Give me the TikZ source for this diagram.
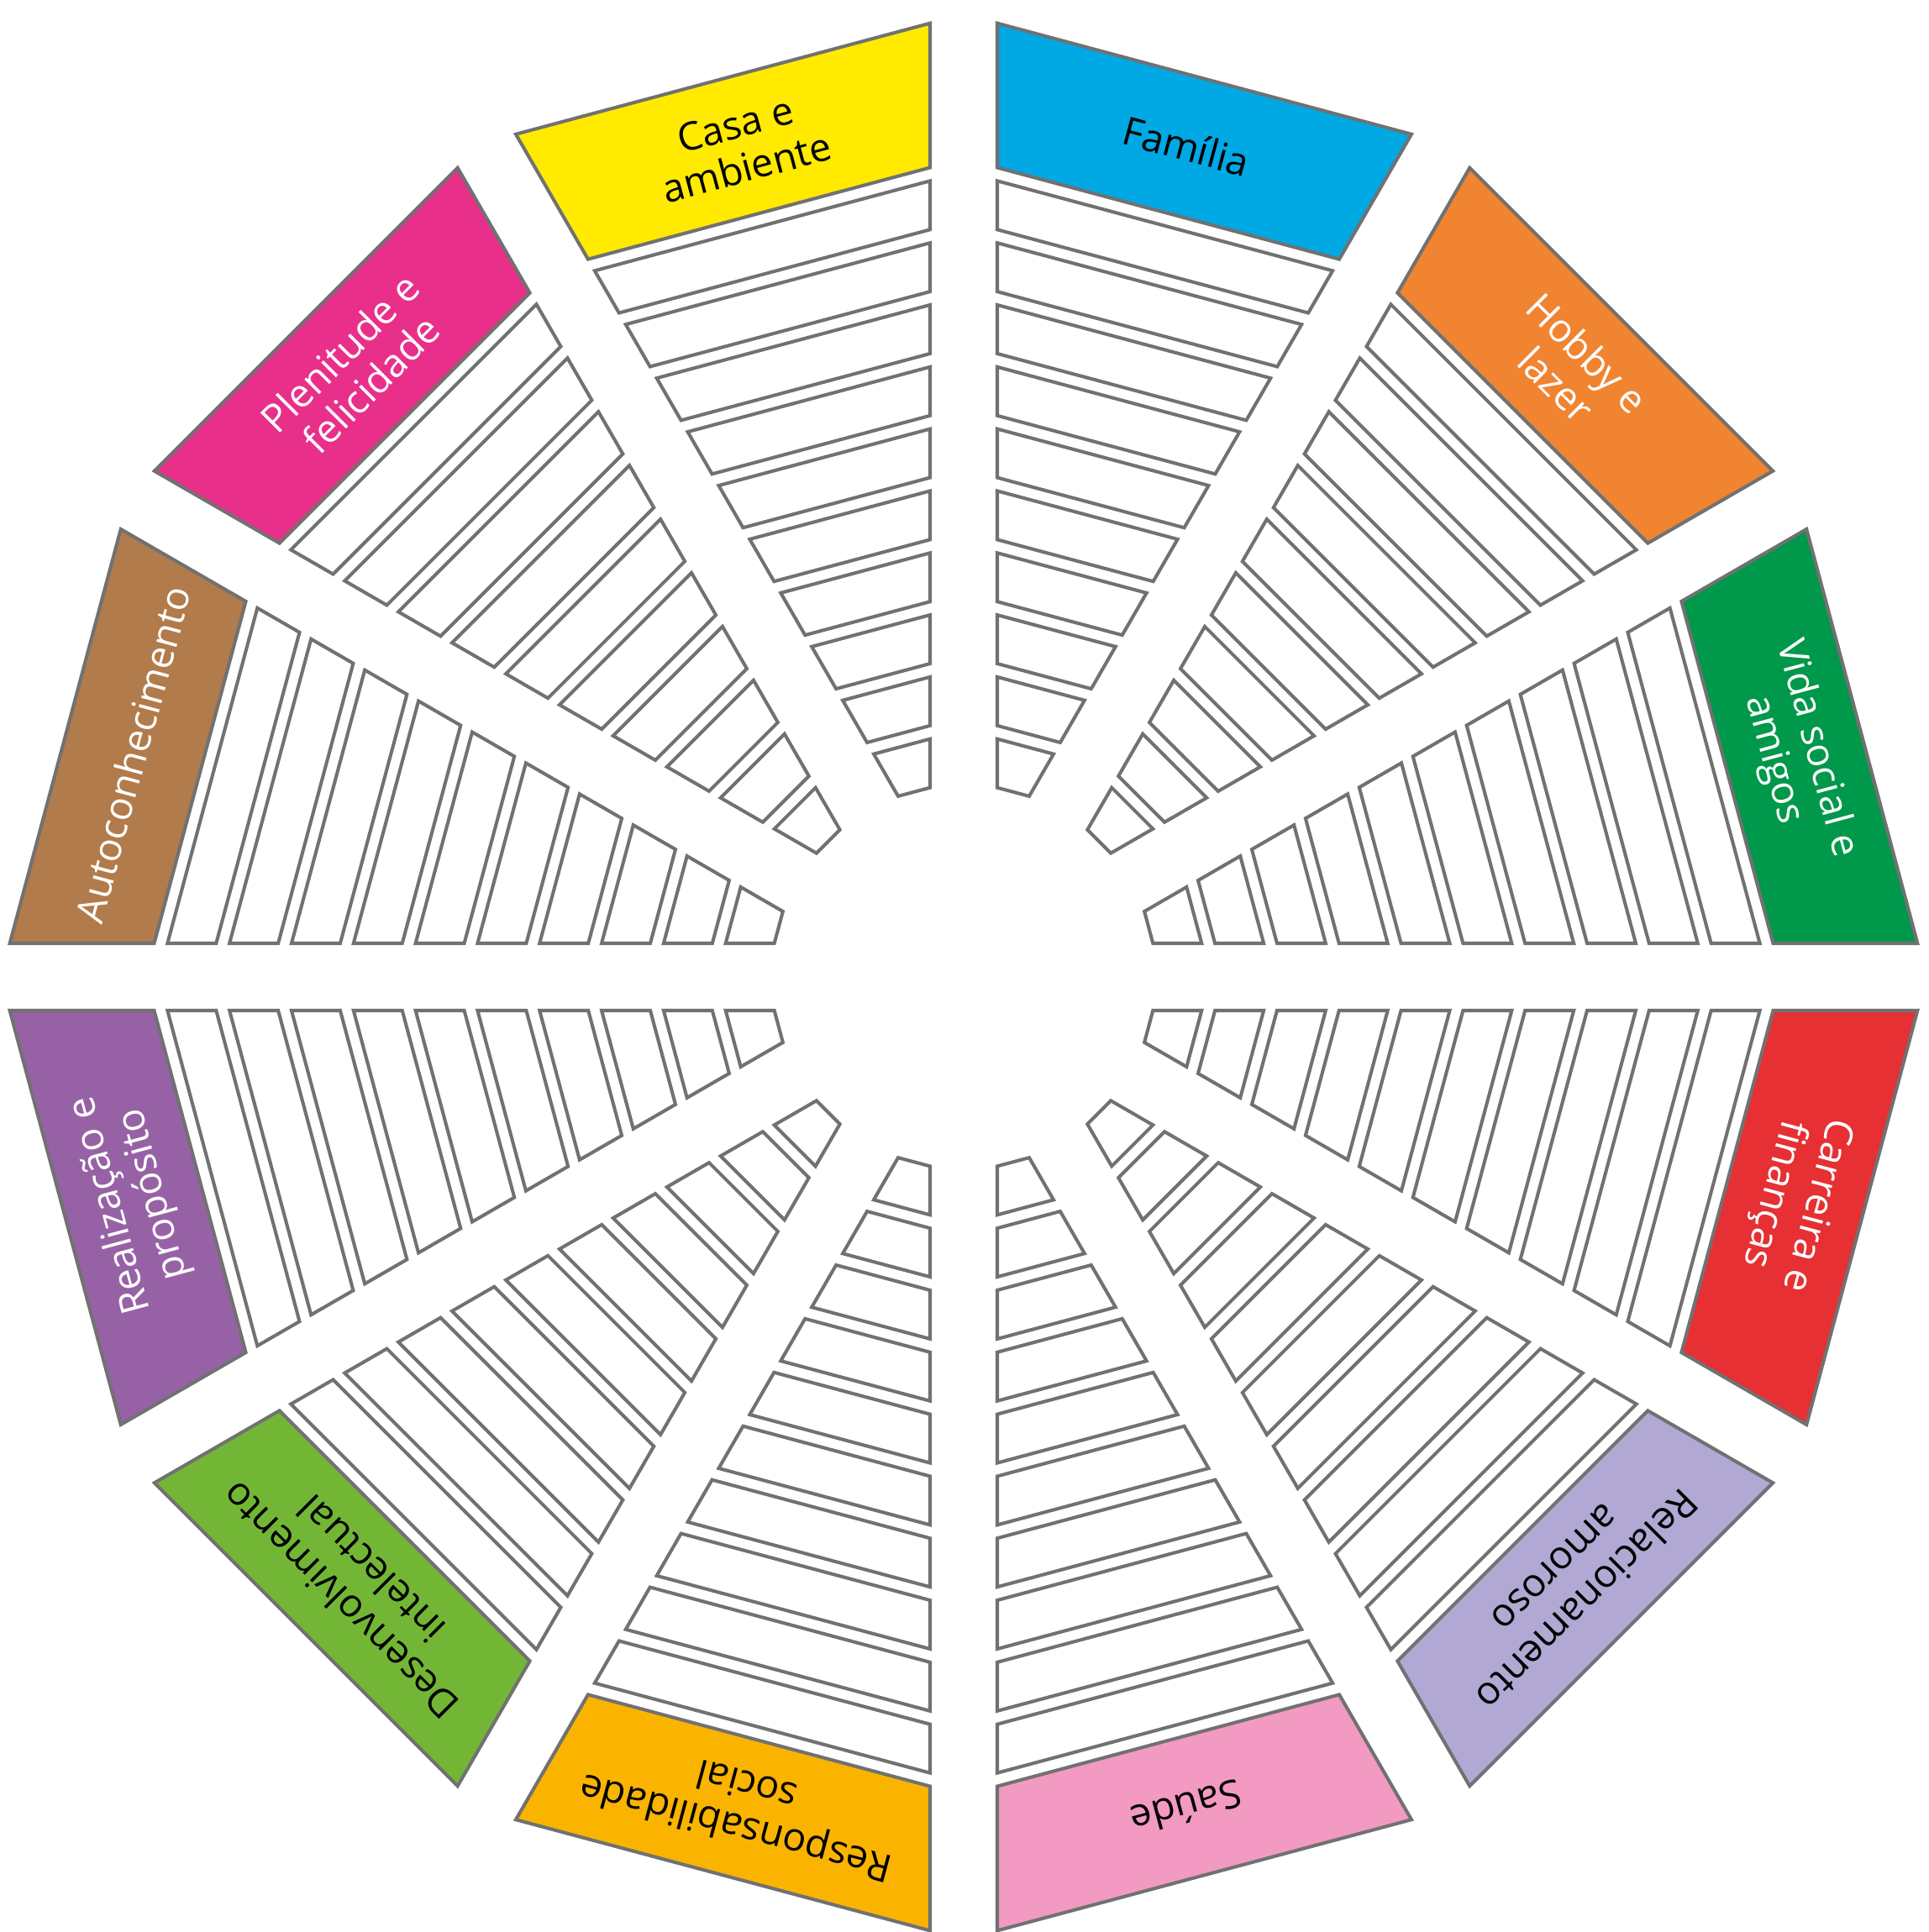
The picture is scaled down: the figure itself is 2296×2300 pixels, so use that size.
\documentclass[tikz,border=0pt]{standalone}
\usepackage{fontspec}
\setmainfont{Open Sans}
\definecolor{rimgray}{RGB}{113,113,113}
\definecolor{casa}{RGB}{255,234,0}
\definecolor{familia}{RGB}{0,168,228}
\definecolor{hobby}{RGB}{240,132,49}
\definecolor{vida}{RGB}{0,152,74}
\definecolor{carreira}{RGB}{230,48,51}
\definecolor{relacao}{RGB}{177,168,211}
\definecolor{saude}{RGB}{242,154,193}
\definecolor{respons}{RGB}{250,180,0}
\definecolor{desenv}{RGB}{115,182,54}
\definecolor{realiza}{RGB}{151,98,165}
\definecolor{autocon}{RGB}{178,123,75}
\definecolor{plenit}{RGB}{232,48,138}
\tikzset{
  cell/.style={draw=rimgray, line width=1.15pt},
  label text/.style={align=center, font=\fontsize{13.2}{15}\selectfont, inner sep=0pt},
}
\begin{document}
\begin{tikzpicture}[x=0.1mm,y=0.1mm]
  \useasboundingbox (-1147,-1137) rectangle (1149,1163);
  \foreach \b/\col/\tcol/\txt [count=\i] in {
      105/casa/black/{Casa e\\ambiente},
      75/familia/black/{Família},
      45/hobby/white/{Hobby e\\lazer},
      15/vida/white/{Vida social e\\amigos},
      -15/carreira/white/{Carreira e\\finanças},
      -45/relacao/black/{Relacionamento\\amoroso},
      -75/saude/black/{Saúde},
      -105/respons/black/{Responsabilidade\\social},
      -135/desenv/black/{Desenvolvimento\\intelectual},
      -165/realiza/white/{Realização e\\propósito},
      165/autocon/white/{Autoconhecimento},
      135/plenit/white/{Plenitude e\\felicidade}}{
    \begin{scope}[rotate=\b]
      % ten empty cells
      \foreach \k in {0,...,9}{
        \pgfmathsetmacro{\ua}{228+71.3*\k}
        \pgfmathsetmacro{\ub}{\ua+56}
        \pgfmathsetmacro{\wa}{\ua*0.26795-41.41}
        \pgfmathsetmacro{\wb}{\ub*0.26795-41.41}
        \draw[cell, fill=white] (\ua,-\wa) -- (\ub,-\wb) -- (\ub,\wb) -- (\ua,\wa) -- cycle;
      }
      % coloured outer cell
      \draw[cell, fill=\col] (941,-210.73) -- (1107,-255.21) -- (1107,255.21) -- (941,210.73) -- cycle;
    \end{scope}
    \node[label text, text=\tcol, rotate=\b-90] (lbl\i) at (\b:1024) {\txt};
  }
\end{tikzpicture}
\end{document}
